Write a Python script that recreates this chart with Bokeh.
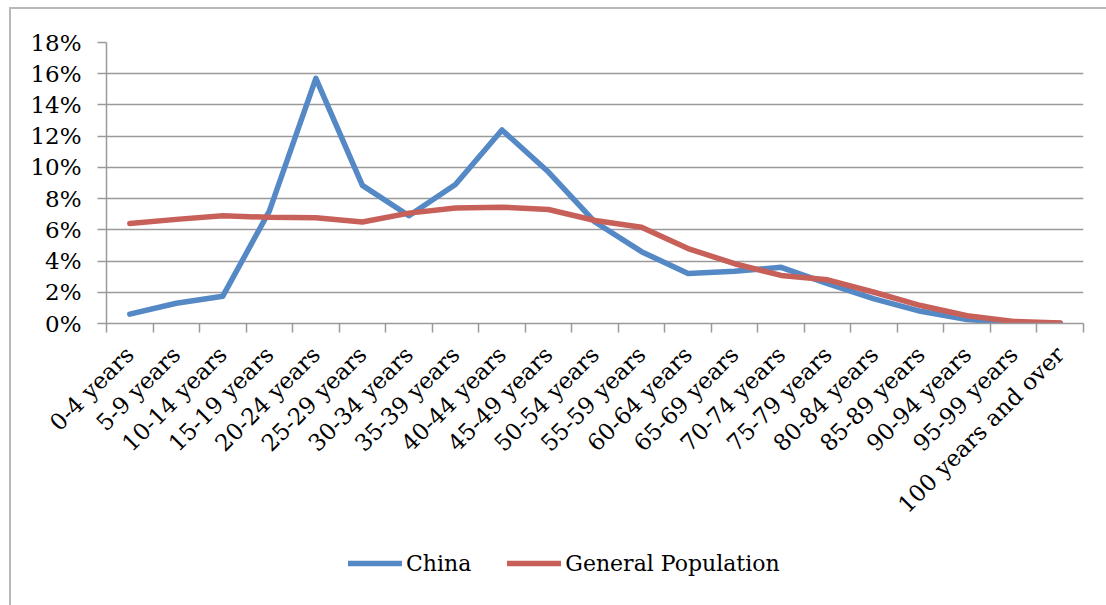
import math
from bokeh.plotting import figure
from bokeh.layouts import column
from bokeh.models import (ColumnDataSource, FixedTicker, NumeralTickFormatter,
                          Range1d, Legend, LegendItem)
from bokeh.embed import file_html
from bokeh.resources import INLINE

# Age groups and share of each population (fractions)
age_groups = ["0-4 years", "5-9 years", "10-14 years", "15-19 years", "20-24 years",
              "25-29 years", "30-34 years", "35-39 years", "40-44 years", "45-49 years",
              "50-54 years", "55-59 years", "60-64 years", "65-69 years", "70-74 years",
              "75-79 years", "80-84 years", "85-89 years", "90-94 years", "95-99 years",
              "100 years and over"]
china = [0.006, 0.013, 0.0175, 0.072, 0.157, 0.0885, 0.069, 0.089, 0.124, 0.097,
         0.065, 0.046, 0.032, 0.0335, 0.036, 0.0255, 0.0158, 0.0078, 0.0025, 0.0005, 0.0001]
general_population = [0.064, 0.0667, 0.069, 0.068, 0.0678, 0.065, 0.0707, 0.074, 0.0745,
                      0.073, 0.066, 0.0617, 0.048, 0.0383, 0.0308, 0.028, 0.02, 0.0115,
                      0.005, 0.0013, 0.0003]
y_ticks = [0.0, 0.02, 0.04, 0.06, 0.08, 0.10, 0.12, 0.14, 0.16, 0.18]

FONT = "DejaVu Serif"
GRAY = "#9a9a9a"
BLUE = "#5489c6"
RED = "#c8605a"
LINE_W = 5.5

n = len(age_groups)
centers = [i + 0.5 for i in range(n)]
bounds = list(range(n + 1))

src = ColumnDataSource(dict(x=centers, china=china, gen=general_population))

# ---- main chart ----
p = figure(width=1095, height=530, output_backend="svg", toolbar_location=None,
           x_range=Range1d(0, n), y_range=Range1d(y_ticks[0], y_ticks[-1]),
           min_border_left=95, min_border_right=23, min_border_top=33,
           min_border_bottom=216)
p.outline_line_color = None
p.background_fill_color = "white"
p.border_fill_color = "white"

p.line("x", "china", source=src, line_color=BLUE, line_width=LINE_W,
       line_join="round", line_cap="round")
p.line("x", "gen", source=src, line_color=RED, line_width=LINE_W,
       line_join="round", line_cap="round")

# y axis
p.yaxis.ticker = FixedTicker(ticks=y_ticks)
p.yaxis.formatter = NumeralTickFormatter(format="0%")
p.yaxis.axis_line_color = GRAY
p.yaxis.axis_line_width = 1.5
p.yaxis.major_tick_line_color = GRAY
p.yaxis.major_tick_line_width = 1.5
p.yaxis.major_tick_out = 9
p.yaxis.major_tick_in = 0
p.yaxis.minor_tick_line_color = None
p.yaxis.major_label_standoff = 16
p.yaxis.major_label_text_font = FONT
p.yaxis.major_label_text_font_size = "23px"
p.yaxis.major_label_text_color = "black"

# x axis: labels at category centres, tick marks at category boundaries
p.xaxis.ticker = FixedTicker(ticks=centers, minor_ticks=bounds)
p.xaxis.major_label_overrides = {c: lab for c, lab in zip(centers, age_groups)}
p.xaxis.major_label_orientation = math.pi / 4
p.xaxis.major_tick_line_color = None
p.xaxis.minor_tick_line_color = GRAY
p.xaxis.minor_tick_line_width = 1.5
p.xaxis.minor_tick_out = 9
p.xaxis.minor_tick_in = 0
p.xaxis.axis_line_color = GRAY
p.xaxis.axis_line_width = 1.5
p.xaxis.major_label_standoff = 18
p.xaxis.major_label_text_font = FONT
p.xaxis.major_label_text_font_size = "23px"
p.xaxis.major_label_text_color = "black"

p.xgrid.grid_line_color = None
p.ygrid.ticker = FixedTicker(ticks=y_ticks)
p.ygrid.grid_line_color = GRAY
p.ygrid.grid_line_width = 1.5

# ---- legend strip underneath (same series, kept outside its visible range) ----
leg = figure(width=1095, height=66, output_backend="svg", toolbar_location=None,
             x_range=Range1d(0, n), y_range=Range1d(10, 11), min_border=0,
             x_axis_location=None, y_axis_location=None)
leg.grid.visible = False
leg.outline_line_color = None
leg.border_fill_color = "white"
leg.background_fill_color = "white"
k_china = leg.line("x", "china", source=src, line_color=BLUE, line_width=LINE_W,
                   line_cap="round")
k_gen = leg.line("x", "gen", source=src, line_color=RED, line_width=LINE_W,
                 line_cap="round")

legend = Legend(items=[LegendItem(label="China", renderers=[k_china]),
                       LegendItem(label="General Population", renderers=[k_gen])],
                orientation="horizontal", location=(242, 29),
                glyph_width=54, glyph_height=26, label_standoff=4, spacing=36,
                padding=0, margin=0, border_line_color=None,
                background_fill_alpha=0, label_text_font=FONT,
                label_text_font_size="22px", label_text_color="black")
leg.add_layout(legend, "center")

page = column(p, leg, spacing=0)
page.styles = {"margin-left": "9px", "margin-top": "7px",
               "border-left": "2px solid #b8b8b8", "border-top": "2px solid #b8b8b8"}

open("out.html", "w").write(file_html(page, INLINE))
